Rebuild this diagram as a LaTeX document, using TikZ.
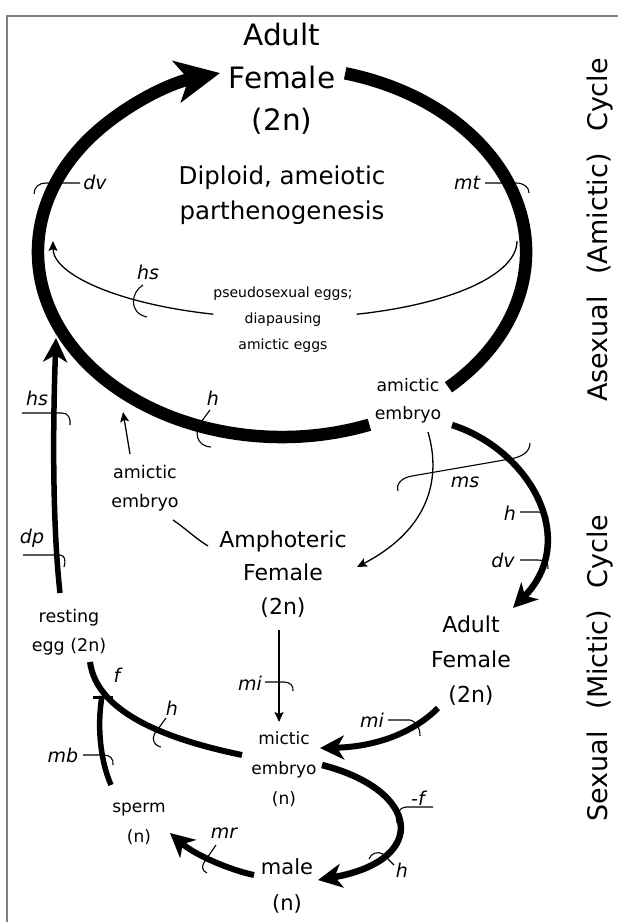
\documentclass[tikz,border=0pt]{standalone}
\usepackage{fontspec}
\setmainfont{DejaVu Sans}
\usetikzlibrary{arrows.meta}
\newcommand{\myfs}[2]{\fontsize{#1}{#2}\selectfont}
\begin{document}
\begin{tikzpicture}[x=1pt,y=-1pt,
  lab/.style={inner sep=0pt, align=center},
  ital/.style={inner sep=0pt, font=\myfs{19}{22}\itshape},
  tick/.style={line width=1.1pt},
  thinline/.style={line width=1.3pt},
  bigline/.style={line width=12.5pt},
  thickline/.style={line width=6pt},
  bigtip/.style={-{Stealth[length=44pt,width=42pt,inset=12pt]}},
  midtip/.style={-{Stealth[length=24pt,width=24pt,inset=7pt]}},
  smalltip/.style={-{Stealth[length=10pt,width=9pt,inset=2pt]}},
]
\fill[white] (0,0) rectangle (618,922);
\useasboundingbox (0,0) rectangle (618,922);
\draw[line width=1.5pt, gray] (618,16) -- (7,16) -- (7,922);

% ---- text nodes ----
\node[lab, font=\myfs{29.5}{42.5}] (AF) at (282,79) {Adult\\Female\\(2n)};
\node[lab, font=\myfs{24.5}{35.5}] (DP) at (282,195) {Diploid, ameiotic\\parthenogenesis};
\node[lab, font=\myfs{14}{26}] (PS) at (283,320) {pseudosexual eggs;\\diapausing\\amictic eggs};
\node[lab, font=\myfs{17.3}{28}] (AE1) at (408,401) {amictic\\embryo};
\node[lab, font=\myfs{17.5}{29}] (AE2) at (145,488) {amictic\\embryo};
\node[lab, font=\myfs{22}{33.5}] (AmF) at (283,574) {Amphoteric\\Female\\(2n)};
\node[lab, font=\myfs{17.5}{29}] (RE) at (69,632) {resting\\egg (2n)};
\node[lab, font=\myfs{22}{35}] (AF2) at (471,661) {Adult\\Female\\(2n)};
\node[lab, font=\myfs{17}{30}] (ME) at (284,769) {mictic\\embryo\\(n)};
\node[lab, font=\myfs{17}{30}] (SP) at (139,824) {sperm\\(n)};
\node[lab, font=\myfs{21}{36}] (MA) at (287,886) {male\\(n)};
\node[lab, font=\myfs{27}{30}, rotate=90] (SL1) at (600,230) {Asexual\hspace{0.8em}(Amictic)\hspace{0.8em}Cycle};
\node[lab, font=\myfs{27}{30}, rotate=90] (SL2) at (600,668) {Sexual\hspace{0.8em}(Mictic)\hspace{0.8em}Cycle};

% ---- italic labels ----
\node[ital] (ldv1) at (95,182) {dv};
\node[ital] (lmt) at (467,183) {mt};
\node[ital] (lhs1) at (148,272) {hs};
\node[ital] (lh1) at (213,398) {h};
\node[ital] (lhs2) at (37,398) {hs};
\node[ital] (ldp) at (32,538) {dp};
\node[ital] (lms) at (465,482) {ms};
\node[ital] (lh2) at (510,513) {h};
\node[ital] (ldv2) at (503,560) {dv};
\node[ital] (lmi1) at (250,683) {mi};
\node[ital] (lf) at (117,675) {f};
\node[ital] (lh3) at (172,708) {h};
\node[ital] (lmi2) at (372,720) {mi};
\node[ital] (lmb) at (63,755) {mb};
\node[ital] (lmr) at (224,833) {mr};
\node[ital] (lnf) at (418,798) {-f};
\node[ital] (lh4) at (402,870) {h};

% ---- named end points ----
\coordinate (eA) at (369.4,424.7);
\coordinate (eB) at (345.2,73.3);
\coordinate (tR) at (517,241);
\coordinate (tL) at (213.3,314.2);
\coordinate (ae1out) at (452,425);
\coordinate (af2in) at (513,608);
\coordinate (ae1thin) at (428,432);
\coordinate (amfin) at (357,567);
\coordinate (ae2up) at (130,454);
\coordinate (ae2tip) at (123,412);
\coordinate (ae2dn) at (173,520);
\coordinate (amfl) at (208,546);
\coordinate (amfdn) at (279,630);
\coordinate (mein) at (279,722);
\coordinate (af2out) at (438,708);
\coordinate (meR) at (320,748);
\coordinate (meL) at (242,755);
\coordinate (reB) at (90,662);
\coordinate (spT) at (111,785);
\coordinate (junc) at (102,696);
\coordinate (meS) at (322,765);
\coordinate (maR) at (318,880);
\coordinate (maL) at (254,875);
\coordinate (spR) at (170,833);
\coordinate (reUp) at (60,593);
\coordinate (afL) at (56,338);

% ---- big asexual cycle ----
\draw[bigline, bigtip] (eA) arc[start angle=69, end angle=255.3, x radius=244, y radius=185];
\draw[bigline] (eB) arc[start angle=-75, end angle=47, x radius=244, y radius=185];

% thin arc (pseudosexual eggs)
\draw[thinline] (tR) arc[start angle=0, end angle=72, x radius=232, y radius=77];
\draw[thinline, smalltip] (tL) arc[start angle=108, end angle=180, x radius=232, y radius=77];

% ---- connectors ----
\draw[line width=6.5pt, midtip] (ae1out) .. controls (530,450) and (580,540) .. (af2in);
\draw[thinline, smalltip] (ae1thin) .. controls (442,480) and (428,530) .. (amfin);
\draw[thinline, smalltip] (ae2up) -- (ae2tip);
\draw[thinline] (ae2dn) .. controls (185,528) and (195,538) .. (amfl);
\draw[thinline, smalltip] (amfdn) -- (mein);
\draw[thickline, midtip] (af2out) .. controls (410,736) and (370,747) .. (meR);
\draw[thickline] (meL) .. controls (170,740) and (97,714) .. (reB);
\draw[line width=5.5pt] (spT) .. controls (100,760) and (97,725) .. (junc);
\draw[line width=3pt] (93,697) -- (113,697);
\draw[line width=6.5pt, midtip] (meS) .. controls (420,790) and (430,860) .. (maR);
\draw[thickline, midtip] (maL) .. controls (230,870) and (195,855) .. (spR);
\draw[line width=5.5pt, midtip] (reUp) .. controls (52,520) and (53,420) .. (afL);

% ---- ticks ----
\draw[tick] (34,194) .. controls (34,187) and (39,183) .. (46,183) -- (80,183);
\draw[tick] (485,183) -- (516,183) .. controls (524,183) and (529,187) .. (529,193);
\draw[tick] (143,285) .. controls (131,292) and (128,313) .. (147,317);
\draw[tick] (210,410) -- (201,422) .. controls (194,432) and (196,446) .. (211,447);
\draw[tick] (22,413) -- (62,413) .. controls (68,413) and (71,418) .. (70,425);
\draw[tick] (23,555) -- (60,555) .. controls (65,555) and (66,561) .. (64,567);
\draw[tick] (398,491) .. controls (396,484) and (401,478) .. (412,476) -- (510,459) .. controls (522,457) and (530,452) .. (530,443);
\draw[tick] (520,512) -- (538,512) .. controls (545,512) and (549,515) .. (548,521);
\draw[tick] (520,560) -- (538,560) .. controls (545,560) and (549,563) .. (548,569);
\draw[tick] (265,682) -- (284,682) .. controls (290,682) and (294,686) .. (293,691);
\draw[tick] (388,720) -- (410,720) .. controls (417,722) and (420,728) .. (420,736);
\draw[tick] (166,718) -- (158,729) .. controls (151,736) and (152,745) .. (161,747);
\draw[tick] (83,755) -- (104,755) .. controls (110,755) and (114,759) .. (113,765);
\draw[tick] (216,845) -- (205,861) .. controls (201,866) and (202,871) .. (207,873);
\draw[tick] (397,823) .. controls (395,816) and (398,808) .. (406,807) -- (433,807);
\draw[tick] (369,859) .. controls (371,853) and (378,851) .. (383,854) -- (394,865);
\end{tikzpicture}
\end{document}
